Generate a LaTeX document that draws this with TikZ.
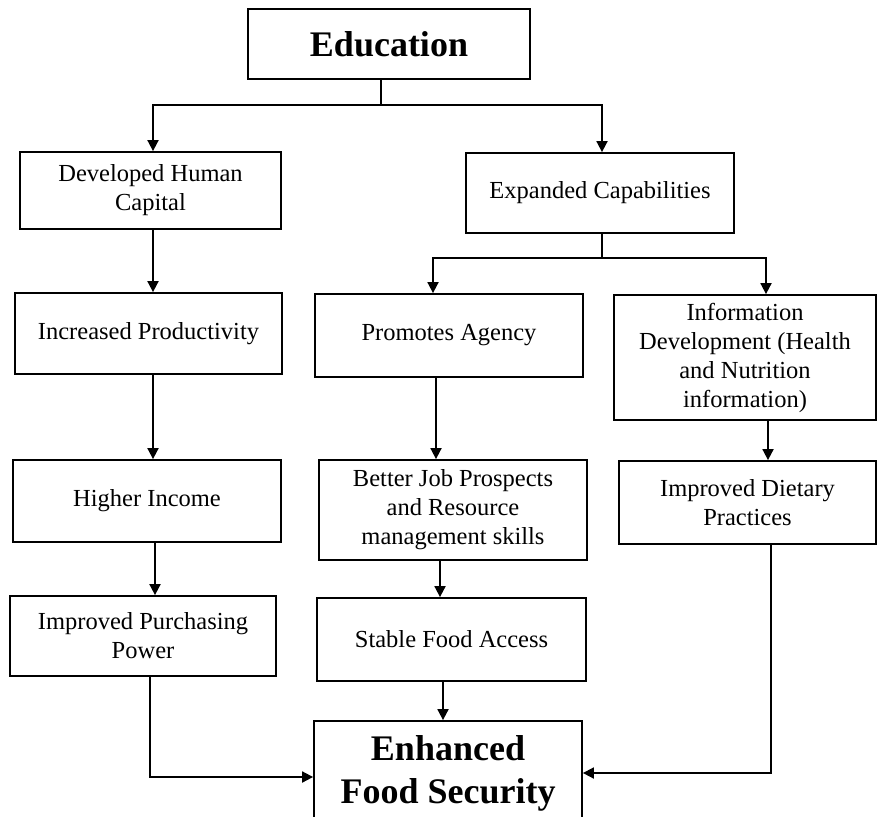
\documentclass[tikz,border=0pt]{standalone}
\usepackage{fontspec}
\setmainfont{Liberation Serif}
\usetikzlibrary{arrows.meta}
\begin{document}
\begin{tikzpicture}[x=1pt,y=-1pt,
  box/.style={draw, line width=1.8pt, inner sep=0pt, align=center,
    font=\fontsize{24.5}{29}\selectfont},
  bigbox/.style={box, font=\fontsize{36}{43}\selectfont\bfseries},
  conn/.style={line width=1.8pt},
  arr/.style={conn, -{Triangle[length=11pt,width=11pt]}}]
\clip (0,0) rectangle (877,816);
\fill[white] (0,0) rectangle (877,816);
\node[bigbox, minimum width=282, minimum height=70] (edu) at (389,44) {Education};
\node[box, minimum width=261, minimum height=77] (dhc) at (150.5,190.5) {Developed Human\\Capital};
\node[box, minimum width=268, minimum height=80] (exp) at (600,193) {Expanded Capabilities};
\node[box, minimum width=267, minimum height=81] (ip) at (148.5,333.5) {Increased Productivity};
\node[box, minimum width=268, minimum height=83] (pa) at (449,335.5) {Promotes Agency};
\node[box, minimum width=262, minimum height=125] (info) at (745,357.5) {Information\\Development (Health\\and Nutrition\\information)};
\node[box, minimum width=268, minimum height=82] (hi) at (147,501) {Higher Income};
\node[box, minimum width=268, minimum height=100] (bj) at (453,510) {Better Job Prospects\\and Resource\\management skills};
\node[box, minimum width=257, minimum height=83] (idp) at (747.5,502.5) {Improved Dietary\\Practices};
\node[box, minimum width=266, minimum height=80] (ipp) at (143,636) {Improved Purchasing\\Power};
\node[box, minimum width=269, minimum height=83] (sfa) at (451.5,639.5) {Stable Food Access};
\node[bigbox, minimum width=268, minimum height=105] (efs) at (448,773.5) {Enhanced\\Food Security};
% connectors
\coordinate (j1) at (381,105);
\draw[conn] (edu.south -| j1) -- (j1);
\draw[arr] (j1) -| ([xshift=2.5pt]dhc.north);
\draw[arr] (j1) -| ([xshift=2pt]exp.north);
\draw[arr] ([xshift=2.5pt]dhc.south) -- ([xshift=2.5pt]dhc.south |- ip.north);
\coordinate (j2) at (602,258);
\draw[conn] (exp.south -| j2) -- (j2);
\draw[arr] (j2) -| ([xshift=-16pt]pa.north);
\draw[arr] (j2) -| ([xshift=21pt]info.north);
\draw[arr] ([xshift=4.5pt]ip.south) -- ([xshift=4.5pt]ip.south |- hi.north);
\draw[arr] ([xshift=-13pt]pa.south) -- ([xshift=-13pt]pa.south |- bj.north);
\draw[arr] ([xshift=23pt]info.south) -- ([xshift=23pt]info.south |- idp.north);
\draw[arr] ([xshift=8pt]hi.south) -- ([xshift=8pt]hi.south |- ipp.north);
\draw[arr] ([xshift=-13pt]bj.south) -- ([xshift=-13pt]bj.south |- sfa.north);
\draw[arr] ([xshift=-8.5pt]sfa.south) -- ([xshift=-8.5pt]sfa.south |- efs.north);
\coordinate (j3) at (150,777);
\draw[arr] (ipp.south -| j3) -- (j3) -- (efs.west |- j3);
\coordinate (j4) at (771,773);
\draw[arr] (idp.south -| j4) -- (j4) -- (efs.east |- j4);
\end{tikzpicture}
\end{document}
